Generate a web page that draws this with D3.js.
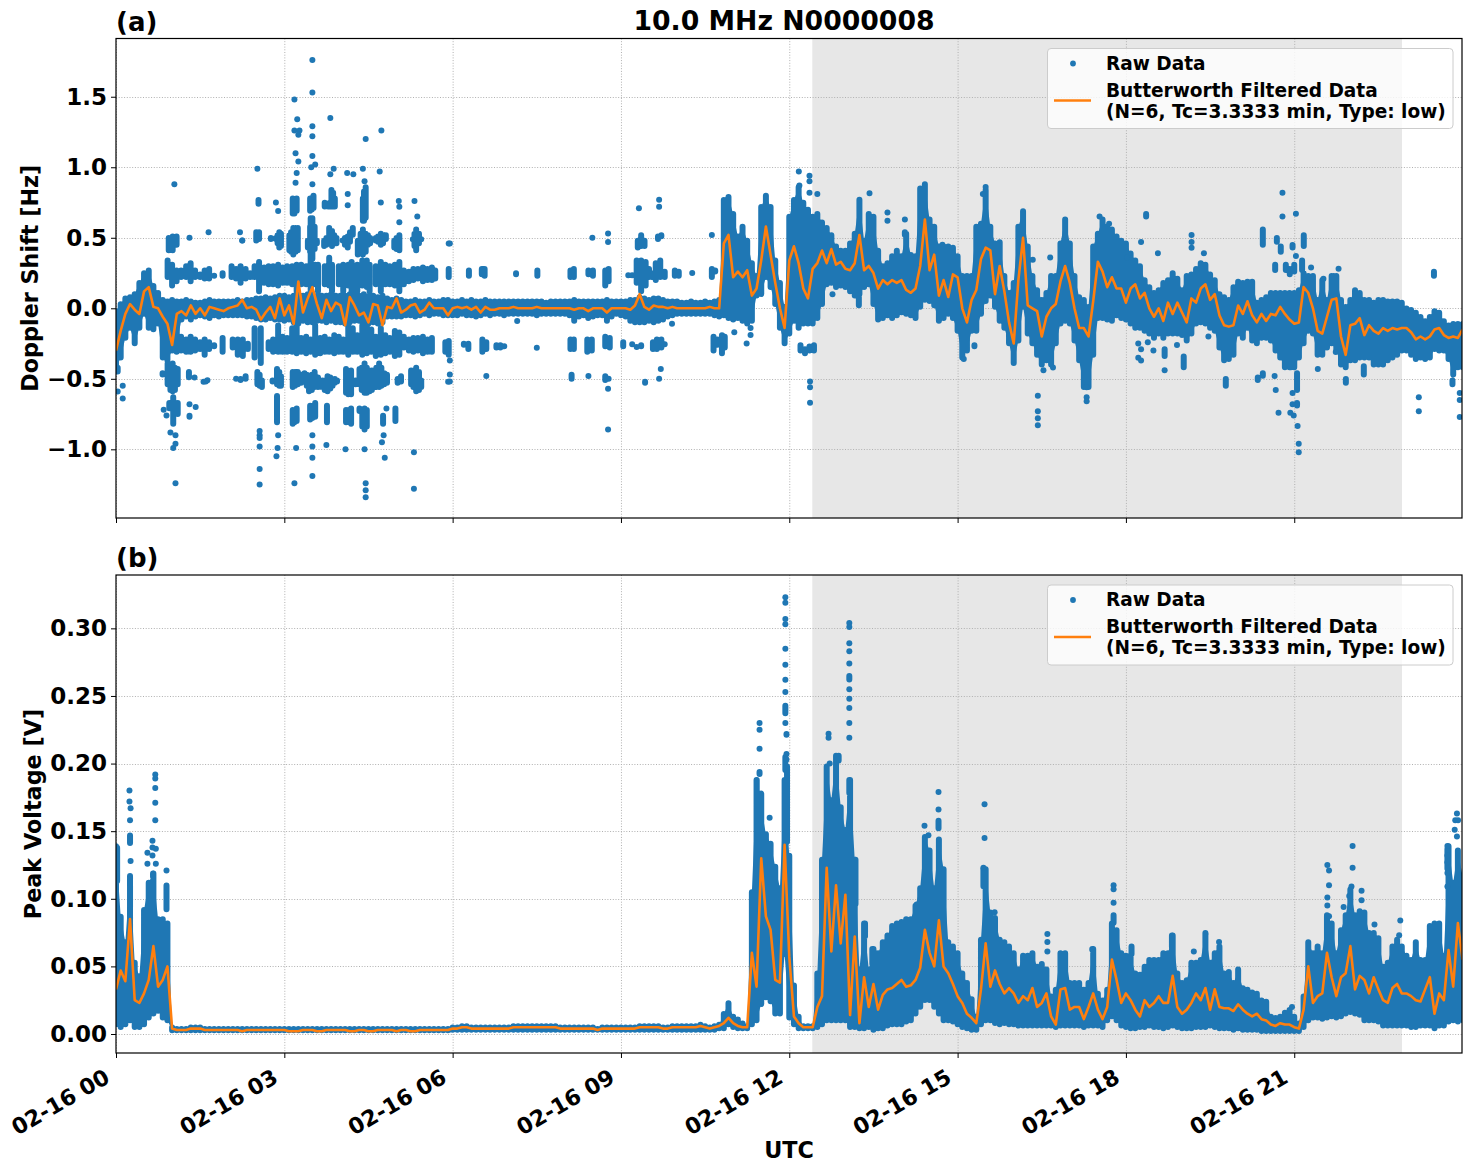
<!DOCTYPE html>
<html>
<head>
<meta charset="utf-8">
<script src="https://cdn.jsdelivr.net/npm/d3@7/dist/d3.min.js"></script>
<style>
html,body{margin:0;padding:0;background:#fff}
text{font-family:"DejaVu Sans",sans-serif;font-weight:bold;fill:#000}
</style>
</head>
<body>
<svg id="fig" width="1472" height="1172"></svg>
<script>
// Series are sampled every five minutes; one row per hour, plus a closing value at 24:00.
const filteredDoppler = [
-.30,-.16,-.04,.03,-.01,-.04,.12,.15,.01,0,-.06,-.11,
-.26,-.04,-.02,-.05,.02,-.04,0,-.05,.01,0,-.01,-.02,
0,.01,.02,.06,0,.01,-.01,-.08,-.03,.01,-.07,.07,
-.05,.02,-.11,.19,-.03,.07,.15,.03,-.07,.06,-.02,.04,
.02,-.12,.08,.02,-.05,-.03,-.1,.03,.02,-.12,.01,0,
.07,-.03,-.01,.02,.03,-.03,-.01,.04,0,0,0,-.05,
0,.01,0,.01,-.01,.01,-.03,.01,-.01,-.01,0,0,
0,.01,0,0,0,0,.01,0,0,0,0,0,
0,0,-.01,0,0,-.02,0,0,0,-.03,0,0,
0,0,-.01,.02,.1,.01,-.01,.02,.01,.01,0,.01,
0,0,0,0,0,0,0,.01,0,0,.46,.52,
.22,.26,.22,.27,.09,.14,.34,.58,.38,.18,0,-.14,
.34,.44,.32,.14,.07,.28,.32,.41,.32,.42,.31,.33,
.28,.27,.32,.52,.27,.3,.25,.14,.2,.17,.2,.18,
.2,.13,.11,.14,.3,.63,.27,.38,.09,.2,.08,.24,
.22,0,-.1,.06,.13,.35,.43,.41,.1,.3,.12,-.1,
-.25,.2,.5,.02,0,-.02,-.2,-.06,0,.03,.19,.3,
.18,0,-.14,-.14,-.2,.05,.33,.26,.15,.22,.14,.14,
.04,.14,.17,.07,.11,0,-.06,0,-.09,.04,-.04,.04,
-.03,-.1,.07,.04,.14,.17,.06,.1,-.05,-.12,-.13,-.12,
.02,-.04,.05,-.05,-.1,-.04,-.09,-.04,-.05,.01,-.04,-.08,
-.11,-.1,.15,.11,0,-.16,-.18,-.06,.06,.07,-.2,-.33,
-.12,-.11,-.07,-.19,-.12,-.16,-.18,-.14,-.16,-.14,-.15,-.14,
-.14,-.17,-.22,-.2,-.22,-.2,-.15,-.14,-.19,-.21,-.2,-.21,-.15];

const rawHighDoppler = [
0,.05,.09,.1,.12,.2,.27,.29,.18,.13,.08,.07,
.08,.07,.07,.08,.07,.06,.06,.07,.08,.07,.07,.07,
.07,.07,.08,.07,.08,.08,.09,.09,.1,.09,.1,.11,
.11,.1,.11,.12,.11,.12,.12,.11,.11,.11,.12,.11,
.11,.11,.12,.11,.11,.12,.11,.11,.1,.11,.09,.08,
.09,.08,.07,.07,.08,.07,.07,.08,.07,.07,.08,.08,
.07,.07,.08,.07,.08,.07,.07,.08,.07,.07,.07,.07,
.07,.07,.07,.07,.07,.07,.07,.07,.06,.07,.07,.07,
.07,.07,.08,.07,.07,.07,.07,.07,.07,.08,.07,.07,
.07,.07,.08,.08,.1,.09,.08,.09,.09,.08,.07,.07,
.07,.06,.06,.07,.06,.06,.07,.06,.07,.08,.79,.81,
.69,.53,.6,.5,.34,.25,.74,.82,.74,.36,.2,.03,
.67,.79,.88,.77,.72,.67,.69,.63,.59,.54,.46,.43,
.43,.48,.55,.79,.5,.69,.67,.43,.32,.34,.39,.43,
.39,.55,.4,.39,.87,.9,.65,.6,.46,.46,.46,.45,
.39,.25,.25,.25,.6,.62,.86,.6,.48,.49,.25,.13,
.2,.6,.71,.46,.25,.15,.08,.13,.25,.25,.48,.65,
.48,.25,.1,.08,.03,.46,.55,.65,.6,.58,.53,.5,
.48,.41,.36,.32,.22,.17,.13,.15,.2,.22,.27,.23,
.15,.25,.26,.3,.34,.33,.26,.22,.12,.1,.08,.17,
.21,.2,.21,.21,.06,.08,.1,.13,.13,.13,.13,.13,
.13,.15,.27,.25,.25,.08,.22,.08,.25,.25,.08,.03,
.08,.15,.13,.08,.08,.06,.08,.08,.07,.07,.07,.06,
.02,.01,-.01,-.04,-.07,-.04,0,-.01,-.07,-.1,-.09,-.09,-.09];

const rawLowDoppler = [
-.45,-.37,-.23,-.16,-.27,-.16,-.06,-.16,-.17,-.13,-.37,-.39,
-.32,-.27,-.1,-.08,-.1,-.08,-.07,-.08,-.09,-.07,-.08,-.07,
-.07,-.07,-.07,-.07,-.08,-.08,-.09,-.1,-.1,-.09,-.1,-.1,
-.11,-.1,-.12,-.13,-.11,-.12,-.12,-.11,-.11,-.12,-.11,-.12,
-.12,-.13,-.12,-.11,-.11,-.12,-.13,-.12,-.13,-.12,-.08,-.08,
-.08,-.08,-.07,-.07,-.08,-.07,-.06,-.07,-.06,-.06,-.07,-.07,
-.07,-.07,-.06,-.07,-.07,-.08,-.07,-.06,-.07,-.06,-.06,-.07,
-.06,-.06,-.06,-.06,-.06,-.06,-.07,-.06,-.06,-.06,-.06,-.06,
-.06,-.07,-.11,-.08,-.07,-.09,-.08,-.07,-.07,-.11,-.08,-.06,
-.07,-.08,-.11,-.12,-.12,-.12,-.11,-.12,-.11,-.1,-.08,-.07,
-.06,-.06,-.06,-.06,-.06,-.06,-.06,-.06,-.07,-.08,-.07,-.09,
-.1,-.09,-.11,-.13,-.11,.07,.08,.2,.13,.01,-.16,-.27,
-.2,-.11,-.16,-.13,-.13,-.13,-.09,.01,.15,.16,.13,.14,
.13,.1,.07,.08,.13,.15,.01,-.1,-.09,-.07,-.09,-.07,
-.05,-.06,-.07,-.09,-.01,.04,.03,0,-.11,-.09,-.06,-.09,
-.18,-.37,-.32,-.18,-.18,-.06,.03,.07,-.01,-.11,-.16,-.27,
-.41,-.25,-.01,-.2,-.27,-.35,-.42,-.39,-.42,-.27,-.13,-.11,
-.13,-.25,-.39,-.58,-.58,-.35,-.09,-.09,-.1,-.11,-.07,-.09,
-.1,-.13,-.16,-.16,-.18,-.2,-.23,-.2,-.23,-.2,-.2,-.2,
-.21,-.25,-.2,-.13,-.12,-.13,-.16,-.18,-.3,-.39,-.38,-.35,
-.2,-.23,-.16,-.25,-.27,-.23,-.23,-.25,-.32,-.37,-.44,-.44,
-.44,-.37,-.27,-.18,-.2,-.35,-.35,-.3,-.27,-.32,-.42,-.44,
-.39,-.39,-.37,-.37,-.37,-.42,-.42,-.42,-.39,-.37,-.35,-.32,
-.32,-.35,-.38,-.37,-.38,-.37,-.31,-.32,-.32,-.38,-.49,-.44,-.44];

const filteredVoltage = [
.033,.047,.039,.085,.025,.023,.03,.04,.065,.035,.04,.05,
.004,.003,.003,.003,.004,.004,.004,.003,.003,.003,.003,.003,
.003,.003,.003,.002,.003,.003,.003,.003,.003,.003,.003,.003,
.003,.002,.002,.002,.003,.003,.003,.002,.002,.003,.003,.003,
.003,.003,.002,.002,.003,.003,.002,.002,.003,.003,.003,.003,
.002,.003,.003,.002,.002,.003,.003,.003,.003,.003,.003,.003,
.004,.004,.005,.005,.004,.004,.004,.004,.004,.004,.004,.004,
.004,.005,.005,.005,.005,.005,.005,.005,.005,.005,.005,.004,
.004,.004,.004,.004,.004,.004,.004,.003,.004,.004,.004,.004,
.004,.004,.004,.004,.005,.005,.005,.005,.005,.004,.004,.005,
.005,.005,.005,.005,.005,.006,.005,.004,.005,.006,.008,.012,
.008,.006,.005,.005,.06,.035,.13,.087,.077,.04,.038,.14,
.057,.013,.008,.005,.005,.005,.02,.028,.123,.061,.11,.067,
.103,.014,.072,.008,.042,.02,.037,.018,.029,.033,.034,.037,
.04,.035,.036,.04,.049,.077,.06,.05,.084,.05,.045,.037,
.028,.023,.015,.012,.008,.033,.067,.035,.047,.037,.03,.034,
.03,.023,.028,.025,.034,.02,.023,.03,.013,.007,.033,.034,
.018,.02,.02,.011,.02,.03,.018,.011,.02,.055,.04,.023,
.03,.025,.018,.013,.025,.02,.023,.028,.023,.023,.043,.02,
.015,.018,.023,.03,.025,.034,.018,.033,.02,.019,.019,.017,
.022,.018,.015,.013,.015,.011,.01,.007,.006,.008,.007,.007,
.005,.004,.018,.05,.023,.028,.03,.06,.042,.028,.042,.045,
.065,.033,.043,.04,.03,.042,.033,.025,.023,.034,.037,.03,
.03,.028,.025,.024,.033,.042,.015,.03,.025,.062,.035,.082,.055];

const rawHighVoltage = [
.141,.089,.07,.119,.055,.045,.094,.114,.121,.087,.087,.084,
.007,.006,.006,.006,.007,.007,.007,.006,.006,.006,.006,.006,
.006,.006,.006,.006,.006,.006,.006,.006,.006,.006,.006,.006,
.006,.006,.006,.006,.006,.006,.006,.006,.006,.006,.006,.006,
.006,.006,.006,.006,.006,.006,.006,.006,.006,.006,.006,.006,
.006,.006,.006,.006,.006,.006,.006,.006,.006,.006,.006,.006,
.007,.007,.008,.008,.007,.007,.007,.007,.007,.007,.007,.007,
.007,.008,.008,.008,.008,.008,.008,.008,.008,.008,.008,.007,
.007,.007,.007,.007,.007,.007,.007,.006,.007,.007,.007,.007,
.007,.007,.007,.007,.008,.008,.008,.008,.008,.007,.007,.008,
.008,.008,.008,.008,.008,.009,.008,.007,.008,.009,.017,.025,
.015,.013,.01,.008,.107,.19,.17,.15,.143,.126,.11,.19,
.134,.038,.015,.008,.008,.008,.047,.131,.2,.175,.208,.17,
.153,.19,.131,.05,.084,.05,.065,.062,.07,.075,.082,.084,
.085,.087,.087,.097,.11,.148,.138,.11,.146,.124,.07,.067,
.06,.047,.04,.028,.015,.072,.124,.092,.088,.072,.07,.067,
.062,.05,.06,.06,.062,.052,.054,.05,.03,.035,.062,.062,
.04,.04,.04,.035,.04,.065,.032,.027,.035,.084,.079,.062,
.06,.06,.047,.046,.052,.057,.057,.057,.062,.062,.075,.047,
.04,.042,.055,.055,.057,.077,.055,.062,.067,.047,.048,.04,
.048,.036,.035,.033,.032,.027,.026,.015,.014,.015,.018,.02,
.015,.01,.03,.07,.062,.067,.062,.09,.084,.062,.079,.09,
.109,.09,.093,.092,.077,.077,.073,.052,.055,.067,.072,.067,
.06,.057,.07,.057,.057,.082,.084,.084,.06,.141,.114,.138,.119];

const rawLowVoltage = [
.005,.003,.005,.008,.003,.003,.005,.01,.013,.015,.01,.008,
.0005,.0005,.0005,.0005,.0005,.0005,.0005,.0005,.0005,.0005,.0005,.0005,
.0005,.0005,.0005,.0005,.0005,.0005,.0005,.0005,.0005,.0005,.0005,.0005,
.0005,.0005,.0005,.0005,.0005,.0005,.0005,.0005,.0005,.0005,.0005,.0005,
.0005,.0005,.0005,.0005,.0005,.0005,.0005,.0005,.0005,.0005,.0005,.0005,
.0005,.0005,.0005,.0005,.0005,.0005,.0005,.0005,.0005,.0005,.0005,.0005,
.001,.001,.001,.001,.001,.001,.001,.001,.001,.001,.001,.001,
.001,.001,.001,.001,.001,.001,.001,.001,.001,.001,.001,.001,
.001,.001,.001,.001,.001,.001,.001,.001,.001,.001,.001,.001,
.001,.001,.001,.001,.001,.001,.001,.001,.001,.001,.001,.001,
.001,.001,.001,.001,.001,.001,.001,.001,.001,.002,.002,.005,
.003,.002,.002,.002,.005,.008,.02,.025,.022,.013,.013,.057,
.01,.005,.002,.002,.002,.002,.003,.005,.008,.008,.008,.008,
.008,.003,.003,.002,.002,.003,.001,.002,.002,.004,.005,.005,
.005,.007,.008,.013,.018,.023,.023,.018,.013,.008,.008,.007,
.005,.003,.002,.001,.001,.005,.008,.008,.006,.005,.006,.005,
.005,.004,.004,.004,.004,.004,.004,.004,.004,.003,.004,.004,
.004,.004,.004,.003,.004,.004,.004,.003,.008,.011,.008,.004,
.003,.002,.002,.003,.003,.004,.003,.003,.002,.003,.004,.003,
.002,.002,.002,.003,.003,.003,.004,.003,.002,.002,.002,.001,
.002,.001,.001,.001,.001,0,0,0,0,0,0,0,
0,0,.003,.008,.01,.01,.009,.01,.011,.01,.011,.013,
.014,.013,.012,.008,.008,.008,.007,.004,.004,.004,.004,.004,
.004,.003,.003,.004,.004,.004,.002,.004,.004,.007,.008,.007,.008];

// Runs of overlapping samples away from the main band, as [hour, low, high].
const sidebandUpper = [[.92,.2,.36],[1,.14,.33],[1.08,.17,.29],[1.16,.2,.29],[1.25,.2,.32],[1.33,.17,.34],[1.41,.2,.29],[1.5,.2,.26],[1.58,.19,.29],[1.66,.19,.3],[1.75,.21,.25],[1.9,.21,.27],
[2.06,.2,.32],[2.14,.19,.3],[2.22,.16,.32],[2.31,.19,.3],[2.39,.2,.27],[2.47,.2,.32],[2.55,.1,.35],[2.64,.16,.31],[2.72,.15,.32],[2.8,.15,.32],[2.89,.14,.33],[2.97,.16,.31],
[3.05,.16,.32],[3.14,.15,.32],[3.22,.1,.33],[3.3,.15,.33],[3.39,.15,.32],[3.47,.08,.66],[3.55,.15,.33],[3.6,.1,.33],[3.72,.15,.32],[3.8,.14,.38],[3.85,.1,.33],[3.97,.15,.32],
[4.05,.1,.33],[4.14,.14,.33],[4.2,.1,.35],[4.3,.1,.33],[4.39,.14,.36],[4.47,.13,.36],[4.52,.1,.33],[4.63,.15,.32],[4.72,.1,.35],[4.8,.15,.33],[4.88,.15,.32],[4.97,.14,.33],
[5.05,.1,.35],[5.13,.15,.29],[5.22,.17,.28],[5.3,.18,.3],[5.38,.19,.3],[5.47,.17,.31],[5.55,.18,.3],[5.63,.18,.31],[5.69,.19,.29],[5.93,.2,.3],
[6.29,.21,.29],[6.52,.22,.3],[6.57,.21,.3],[7.13,.22,.27],[7.51,.21,.29],[8.1,.2,.29],[8.16,.2,.3],[8.42,.22,.29],[8.5,.21,.29],[8.72,.14,.29],[8.78,.17,.3],[9.13,.22,.25],
[9.2,.22,.25],[9.28,.16,.36],[9.36,.1,.36],[9.44,.14,.35],[9.5,.2,.3],[9.55,.2,.27],[9.62,.18,.34],[9.7,.2,.36],[9.78,.2,.28],[9.96,.21,.29],[10.03,.21,.28],[10.27,.23,.27],[10.62,.2,.3],[10.68,.24,.29]];

const sidebandLower = [[1.08,-.33,-.19],[1.16,-.32,-.18],[1.25,-.33,-.2],[1.33,-.33,-.18],[1.41,-.32,-.2],[1.5,-.31,-.22],[1.58,-.35,-.2],[1.66,-.31,-.22],[1.75,-.29,-.24],[1.9,-.33,-.19],
[2.08,-.3,-.2],[2.17,-.35,-.2],[2.26,-.36,-.2],[2.35,-.31,-.23],[2.47,-.37,-.12],[2.58,-.41,-.12],[2.72,-.31,-.22],[2.8,-.33,-.2],[2.89,-.33,-.1],[2.97,-.33,-.18],
[3.05,-.33,-.19],[3.14,-.33,-.12],[3.22,-.34,-.1],[3.3,-.33,-.19],[3.39,-.34,-.18],[3.47,-.33,-.2],[3.55,-.35,-.1],[3.64,-.34,-.19],[3.72,-.33,-.18],[3.8,-.33,-.2],[3.89,-.34,-.17],[3.97,-.33,-.18],
[4.05,-.33,-.2],[4.14,-.35,-.1],[4.22,-.33,-.12],[4.3,-.33,-.17],[4.39,-.35,-.1],[4.47,-.34,-.1],[4.55,-.33,-.13],[4.63,-.36,-.18],[4.72,-.35,-.12],[4.8,-.34,-.17],[4.88,-.33,-.19],[4.97,-.36,-.14],
[5.05,-.35,-.15],[5.13,-.3,-.18],[5.22,-.32,-.2],[5.3,-.33,-.19],[5.38,-.32,-.19],[5.47,-.34,-.18],[5.55,-.33,-.2],[5.63,-.33,-.19],[5.87,-.33,-.22],[5.93,-.35,-.21],
[6.2,-.28,-.23],[6.28,-.31,-.23],[6.53,-.33,-.2],[6.6,-.31,-.22],[6.78,-.3,-.24],[6.85,-.3,-.24],[6.92,-.29,-.25],[7.5,-.3,-.26],[8.1,-.31,-.2],[8.16,-.31,-.2],[8.4,-.33,-.2],[8.48,-.32,-.2],
[8.72,-.29,-.18],[8.8,-.3,-.19],[9.04,-.29,-.22],[9.2,-.26,-.25],[9.28,-.28,-.27],[9.36,-.29,-.24],[9.57,-.31,-.22],[9.64,-.31,-.2],[9.72,-.3,-.2],[9.78,-.27,-.24],[10.65,-.32,-.18],[10.72,-.28,-.2],[10.8,-.34,-.17],[10.85,-.3,-.18]];

const outerPositive = [[.94,.39,.52],[1.01,.39,.53],[1.08,.43,.53],[2.21,.53,.55],[2.25,.47,.49],[2.5,.46,.56],[2.52,.47,.55],[2.55,.47,.56],[2.76,.47,.52],[2.85,.47,.52],[2.88,.44,.54],[2.91,.41,.56],[2.94,.42,.55],
[3.09,.39,.54],[3.12,.38,.56],[3.16,.36,.59],[3.2,.38,.59],[3.24,.39,.59],[3.42,.41,.5],[3.46,.38,.6],[3.5,.33,.66],[3.54,.4,.6],[3.58,.44,.5],[3.71,.42,.5],[3.75,.43,.52],[3.8,.44,.59],[3.85,.42,.57],[3.89,.44,.54],[3.93,.44,.52],[4.04,.46,.5],[4.08,.43,.52],[4.13,.41,.53],[4.17,.45,.56],[4.22,.5,.59],
[4.31,.36,.5],[4.36,.38,.55],[4.4,.36,.58],[4.45,.38,.55],[4.49,.43,.54],[4.53,.44,.52],[4.63,.46,.52],[4.67,.45,.53],[4.72,.43,.55],[4.76,.44,.54],[4.81,.47,.54],[4.96,.41,.5],[5,.4,.52],[5.05,.39,.54],[5.29,.47,.51],[5.32,.42,.55],[5.35,.39,.58],[5.4,.44,.55],[5.44,.47,.51],
[9.3,.41,.5],[9.36,.42,.54],[9.42,.42,.5],[9.66,.47,.53],[9.72,.49,.54],[10.62,.5,.54],
[2.54,.72,.79],[2.85,.74,.76],[3.15,.65,.8],[3.18,.65,.78],[3.22,.67,.8],[3.46,.67,.8],[3.49,.68,.8],[3.52,.69,.82],[3.72,.7,.77],[3.78,.7,.76],[3.81,.7,.77],[3.84,.7,.86],[3.87,.7,.84],[3.9,.7,.8],[4.4,.6,.8],[4.42,.6,.85],[4.45,.62,.88]];

const outerNegative = [[.83,-.49,-.44],[.92,-.56,-.37],[.97,-.6,-.38],[1.01,-.61,-.37],[1.05,-.6,-.4],[1.1,-.56,-.41],[1.3,-.51,-.43],[1.4,-.5,-.48],[1.56,-.54,-.5],[1.63,-.52,-.5],[2.14,-.51,-.49],[2.22,-.53,-.48],[2.31,-.52,-.46],
[2.52,-.56,-.43],[2.56,-.57,-.45],[2.6,-.58,-.49],[2.79,-.54,-.49],[2.87,-.56,-.41],[2.91,-.57,-.43],[2.94,-.57,-.46],[3.15,-.58,-.43],[3.19,-.57,-.43],[3.24,-.56,-.43],[3.3,-.55,-.45],[3.36,-.54,-.44],[3.4,-.57,-.45],[3.44,-.61,-.49],[3.49,-.6,-.45],[3.54,-.58,-.43],[3.6,-.58,-.47],[3.68,-.58,-.49],[3.72,-.6,-.49],[3.77,-.61,-.46],[3.82,-.59,-.47],[3.86,-.57,-.48],[3.9,-.55,-.48],[3.94,-.54,-.49],
[4.1,-.62,-.41],[4.14,-.63,-.43],[4.19,-.63,-.42],[4.27,-.56,-.49],[4.34,-.56,-.41],[4.38,-.6,-.4],[4.43,-.62,-.37],[4.47,-.62,-.4],[4.52,-.61,-.42],[4.56,-.6,-.42],[4.6,-.58,-.44],[4.64,-.58,-.4],[4.69,-.58,-.37],[4.73,-.57,-.4],[4.78,-.56,-.44],[4.83,-.55,-.45],[5.02,-.55,-.48],[5.08,-.54,-.46],
[5.26,-.56,-.42],[5.3,-.58,-.42],[5.35,-.61,-.4],[5.4,-.6,-.43],[5.44,-.58,-.49],[5.92,-.54,-.5],[8.12,-.52,-.45],[8.72,-.53,-.46],[8.78,-.52,-.48],[9.43,-.55,-.5],[0,-.47,-.3],[.03,-.47,-.4],
[.95,-.73,-.65],[1.02,-.84,-.61],[1.1,-.77,-.65],[1.31,-.79,-.74],[2.87,-.83,-.6],[3.15,-.84,-.7],[3.18,-.83,-.7],[3.22,-.82,-.69],[3.46,-.81,-.67],[3.5,-.8,-.67],[3.55,-.79,-.65],[3.76,-.83,-.67],[4.1,-.83,-.7],[4.16,-.83,-.7],[4.19,-.84,-.69],[4.34,-.75,-.69],[4.39,-.86,-.7],[4.43,-.88,-.69],[4.47,-.86,-.7],[4.76,-.84,-.74],[4.82,-.72,-.7],[4.98,-.82,-.69]];

const daytimeRuns = [[12.2,-.32,-.24],[12.28,-.34,-.27],[12.36,-.32,-.25],[12.44,-.32,-.24],[13.24,0,.1],[13.25,.75,.79],[13.43,.8,.83],[14.06,.5,.56],[14.73,.44,.46],[15.3,-.29,-.24],[16.34,.33,.36],
[18.36,.63,.69],[18.57,.37,.41],[18.69,-.36,-.27],[19.03,-.44,-.32],[19.78,-.57,-.48],[20.35,-.53,-.47],[20.44,-.5,-.44],[20.72,-.76,-.72],[20.44,.43,.58],[20.69,.45,.52],[20.76,.38,.46],[20.79,.8,.84],
[21.03,.65,.69],[20.97,.41,.47],[21.17,.42,.54],[20.66,.25,.33],[20.85,.25,.33],[20.92,.22,.3],[21,.24,.33],[21.14,.25,.36],[21.7,.15,.25],[20.87,-.43,-.38],[20.94,-.44,-.37],[21,-.41,-.37],
[21.05,-.6,-.44],[21.05,-.71,-.65],[21.06,-.85,-.82],[21.42,-.45,-.41],[21.92,-.55,-.48],[22.24,-.49,-.39],[23.49,.21,.28],[23.82,-.56,-.49]];

const clusterDoppler = [...sidebandUpper,...sidebandLower,...outerPositive,...outerNegative,...daytimeRuns];

// Isolated samples: hour of day and Doppler shift.
const sparseHours = [3.5,3.5,3.18,3.23,3.82,4.73,4.45,3.18,3.27,3.25,3.5,3.5,3.2,3.25,3.5,3.48,3.55,3.22,3.88,3.82,2.52,4.12,4.23,4.4,4.43,4.7,1.04,3.2,3.5,2.89,4.13,4.13,4.72,5.04,5.05,5.05,5.32,5.37,1.31,1.65,2.25,5.93,.12,.12,.03,.85,.9,1.31,1.42,1.6,2.56,2.56,2.56,2.89,2.56,2.88,2.86,3.21,3.5,3.5,3.5,3.75,4.09,4.43,4.45,4.45,4.45,4.79,4.74,4.77,5.31,5.31,1.06,2.56,2.56,3.18,3.5,1.06,1.06,1.02,.97,
12.17,12.36,12.36,12.36,12.5,12.18,12.37,12.37,12.37,12.77,13.75,13.75,14.06,15.11,16.65,16.53,16.7,16.43,16.43,16.43,16.43,17.3,17.3,17.3,17.53,17.7,18.02,15.5,15.45,18.27,19.17,19.17,19.17,19.39,18.22,18.22,18.27,18.27,18.39,18.49,18.69,18.91,19.47,20.65,20.67,20.79,21.03,21.3,21.52,21.79,20.97,20.97,20.93,20.99,21.08,21.08,21.74,23.22,23.22,23.95,23.95,23.95,
6.6,8.42,8.77,8.77,9.71,9.68,9.32,9.68,9.68,8.49,8.77,8.77,11.02,11.24,11.31,11.31,9.91,7.15,5.95,5.95,5.95,5.95];
const sparseShifts = [1.76,1.53,1.48,1.34,1.35,1.26,1.2,1.26,1.26,1.23,1.29,1.22,1.1,1.04,1.08,1.0,1.02,.96,.99,.95,.99,.96,.95,.99,.9,.97,.88,.89,.88,.69,.81,.73,.75,.76,.72,.61,.76,.65,.5,.54,.48,.46,-.55,-.64,-.59,-.72,-.76,-.68,-.7,-.52,-.9,-.87,-.92,-.9,-.98,-.99,-1.05,-.99,-.9,-.98,-1.06,-.97,-1.0,-1.0,-1.24,-1.29,-1.34,-1.06,-.95,-.9,-1.02,-1.28,-1.24,-1.14,-1.25,-1.24,-1.19,-.9,-.96,-.99,-.88,
.97,.94,.9,.82,.81,.87,-.52,-.56,-.67,.1,.68,.62,.63,-.36,.36,-.44,-.42,-.62,-.73,-.78,-.83,-.63,-.66,-.56,.65,.6,.36,.86,.81,.47,.52,.47,.43,.39,-.25,-.35,-.29,-.37,-.24,-.3,-.44,-.26,-.2,-.48,-.58,.65,.37,.29,.21,.28,-.6,-.68,-.74,-.76,-.96,-1.02,-.31,-.63,-.73,-.6,-.65,-.77,
-.48,-.48,-.57,-.86,-.43,-.5,.71,.77,.72,.5,.53,.47,-.17,-.25,-.14,-.19,-.11,-.09,.46,-.37,-.52,-.47];

const clusterVoltage = [[.02,.111,.14],[.25,.139,.149],[.66,.114,.121],[.9,.09,.112],
[11.47,.19,.196],[11.42,.14,.19],[11.5,.14,.18],[11.93,.193,.207],[11.96,.14,.2],[11.93,.235,.245],[11.95,.219,.224],
[12.88,.2,.208],[13.07,.26,.267],[13.07,.176,.19],[14.66,.15,.16],[15.46,.107,.124],
[13.18,.094,.131],[13.35,.07,.084],[13.48,.05,.065],[14.27,.084,.098],[15,.055,.062],
[17.78,.08,.09],[18.1,.057,.067],[17.4,.06,.065],[18.82,.062,.075],[19.42,.072,.076],[19.66,.066,.07],
[20,.04,.05],[21.59,.093,.097],[23.73,.12,.139]];

const spikeHours = [.24,.24,.26,.25,.26,.7,.7,.7,.7,.7,.65,.65,.71,.56,.65,.56,.71,.9,
11.47,11.47,11.47,11.65,11.93,11.93,11.93,11.93,11.93,11.93,11.93,11.93,11.93,11.95,11.95,
12.7,12.7,12.72,13.07,13.07,13.07,13.07,13.07,13.07,13.07,13.07,13.07,13.07,14.66,14.66,14.41,14.48,15.48,15.48,15.46,15.66,
16.6,16.6,16.6,17.78,17.78,17.78,19.21,20.96,21.59,21.62,21.62,21.59,21.62,22.04,22.04,22.02,21.98,21.88,22.2,22.2,22.43,22.89,22.87,
23.9,23.87,23.92,23.86,23.9,23.73,23.73,23.73,23.73,23.73];
const spikeVolts = [.18,.172,.167,.158,.128,.192,.189,.182,.171,.158,.143,.138,.137,.134,.132,.126,.126,.121,
.23,.225,.211,.16,.323,.319,.307,.303,.285,.273,.262,.253,.23,.207,.203,
.222,.219,.2,.304,.301,.289,.283,.274,.255,.248,.241,.23,.219,.179,.166,.154,.147,.17,.145,.123,.09,
.074,.068,.061,.11,.107,.097,.061,.02,.125,.121,.11,.101,.087,.139,.123,.109,.102,.094,.106,.099,.081,.084,.073,
.163,.158,.158,.151,.146,.139,.132,.127,.119,.109];

const dopplerTicks = [-1,-.5,0,.5,1,1.5];
const voltageTicks = [0,.05,.1,.15,.2,.25,.3];
const tickHours = [0,3,6,9,12,15,18,21];
const shadeHours = [12.41,22.92];
const panelNames = ["(a)","(b)"];
const figureTitle = "10.0 MHz N0000008";
const legendEntries = ["Raw Data","Butterworth Filtered Data","(N=6, Tc=3.3333 min, Type: low)"];

const BLUE = "#1f77b4", ORANGE = "#ff7f0e", DOT = 6;
const dayStart = Date.UTC(2023,1,16);
const atHour = h => new Date(dayStart + h*3600e3);
const svg = d3.select("#fig");

const x = d3.scaleUtc().domain([atHour(0),atHour(23.99)]).range([116,1462]);

function drawPanel(o){
  const y = d3.scaleLinear().domain(o.domain).range([o.bottom,o.top]);
  const g = svg.append("g");
  const clipId = "clip"+o.index;
  g.append("clipPath").attr("id",clipId).append("rect")
    .attr("x",116).attr("y",o.top).attr("width",1346).attr("height",o.bottom-o.top);

  g.append("rect").attr("x",x(atHour(shadeHours[0]))).attr("y",o.top)
    .attr("width",x(atHour(shadeHours[1]))-x(atHour(shadeHours[0])))
    .attr("height",o.bottom-o.top).attr("fill","#e7e7e7");

  // dotted grid under the data
  const grid = g.append("g").attr("stroke","#b0b0b0").attr("stroke-width",1).attr("stroke-dasharray","1 1.7");
  grid.selectAll(".gx").data(tickHours).join("line")
    .attr("x1",d=>x(atHour(d))+.5).attr("x2",d=>x(atHour(d))+.5).attr("y1",o.top).attr("y2",o.bottom);
  grid.selectAll(".gy").data(o.ticks).join("line")
    .attr("x1",116).attr("x2",1462).attr("y1",d=>Math.round(y(d))+.5).attr("y2",d=>Math.round(y(d))+.5);

  const plot = g.append("g").attr("clip-path",`url(#${clipId})`);
  const hours = o.filtered.map((_,i)=>i/12);
  const r = DOT/2;

  // solid body of the dense samples between the five-minute extents
  const body = d3.area().x((_,i)=>x(atHour(hours[i])))
    .y0((_,i)=>y(o.low[i])-r).y1((_,i)=>y(o.high[i])+r);
  plot.append("path").datum(o.filtered).attr("d",body).attr("fill",BLUE);

  // a vertical run of overlapping round samples between two values
  const seg = d3.line();
  const run = (h,lo,hi) => {
    const px = x(atHour(h)), top = y(hi), bot = y(lo);
    if (bot-top < DOT) { const m = (top+bot)/2; return seg([[px,m],[px,m]]); }
    return seg([[px,top+r],[px,bot-r]]);
  };
  const dense = o.filtered.map((_,i)=>[hours[i],o.low[i],o.high[i]]);
  plot.append("path").attr("d",[...dense,...o.clusters].map(c=>run(c[0],c[1],c[2])).join(""))
    .attr("fill","none").attr("stroke",BLUE).attr("stroke-width",DOT).attr("stroke-linecap","round");

  // isolated raw samples
  plot.selectAll(".sample").data(o.sparseX).join("circle")
    .attr("cx",d=>x(atHour(d))).attr("cy",(_,i)=>y(o.sparseY[i])).attr("r",r).attr("fill",BLUE);

  // low-pass filtered trace
  plot.append("path").datum(o.filtered)
    .attr("d",d3.line().x((_,i)=>x(atHour(hours[i]))).y(d=>y(d)))
    .attr("fill","none").attr("stroke",ORANGE).attr("stroke-width",2.6).attr("stroke-linejoin","round");

  // y axis
  const yAxis = d3.axisLeft(y).tickValues(o.ticks).tickSize(5).tickPadding(4).tickFormat(o.format);
  const ya = g.append("g").attr("transform","translate(116,0)").call(yAxis);
  ya.select(".domain").remove();
  ya.selectAll("line").attr("stroke","#000").attr("stroke-width",1);
  ya.selectAll("text").style("font-size","23px").attr("fill","#000");

  // x axis
  const xAxis = d3.axisBottom(x).tickValues(tickHours.map(atHour)).tickSize(5)
    .tickFormat(o.index ? d3.utcFormat("%m-%d %H") : "");
  const xa = g.append("g").attr("transform",`translate(0,${o.bottom})`).call(xAxis);
  xa.select(".domain").remove();
  xa.selectAll("line").attr("stroke","#000").attr("stroke-width",1);
  xa.selectAll("text").style("font-size","22px").attr("text-anchor","end")
    .attr("transform","translate(-13,15) rotate(-30)").attr("dy","0.71em").attr("y",0).attr("x",0);

  // frame
  g.append("rect").attr("x",116).attr("y",o.top).attr("width",1346).attr("height",o.bottom-o.top)
    .attr("fill","none").attr("stroke","#000").attr("stroke-width",1.2);

  g.append("text").attr("x",116).attr("y",o.top-8).style("font-size","26px").text(panelNames[o.index]);
  g.append("text").attr("transform",`translate(${o.labelX},${(o.top+o.bottom)/2}) rotate(-90)`)
    .attr("text-anchor","middle").style("font-size","22.3px").text(o.label);

  // legend
  const top = o.top+10, lg = g.append("g");
  lg.append("rect").attr("x",1047.5).attr("y",top).attr("width",405.5).attr("height",80).attr("rx",3.5)
    .attr("fill","#fff").attr("fill-opacity",.8).attr("stroke","#ccc").attr("stroke-width",1);
  lg.append("circle").attr("cx",1073).attr("cy",top+15).attr("r",2.9).attr("fill",BLUE);
  lg.append("line").attr("x1",1054).attr("x2",1091).attr("y1",top+52).attr("y2",top+52)
    .attr("stroke",ORANGE).attr("stroke-width",2.6);
  lg.selectAll("text").data(legendEntries).join("text").attr("x",1106)
    .attr("y",(_,i)=>top+[21,48,69][i]).style("font-size","18.55px").text(d=>d);
}

drawPanel({index:0,top:38.5,bottom:518,domain:[-1.487,1.913],ticks:dopplerTicks,
  format:d=>(d<0?"\u2212":"")+Math.abs(d).toFixed(1),filtered:filteredDoppler,high:rawHighDoppler,low:rawLowDoppler,
  clusters:clusterDoppler,sparseX:sparseHours,sparseY:sparseShifts,label:"Doppler Shift [Hz]",labelX:38});
drawPanel({index:1,top:575,bottom:1053,domain:[-.01405,.33945],ticks:voltageTicks,
  format:d3.format(".2f"),filtered:filteredVoltage,high:rawHighVoltage,low:rawLowVoltage,
  clusters:clusterVoltage,sparseX:spikeHours,sparseY:spikeVolts,label:"Peak Voltage [V]",labelX:41});

svg.append("text").attr("x",784).attr("y",30).attr("text-anchor","middle").style("font-size","26.7px").text(figureTitle);
svg.append("text").attr("x",789).attr("y",1158).attr("text-anchor","middle").style("font-size","22.3px").text("UTC");
</script>
</body>
</html>
